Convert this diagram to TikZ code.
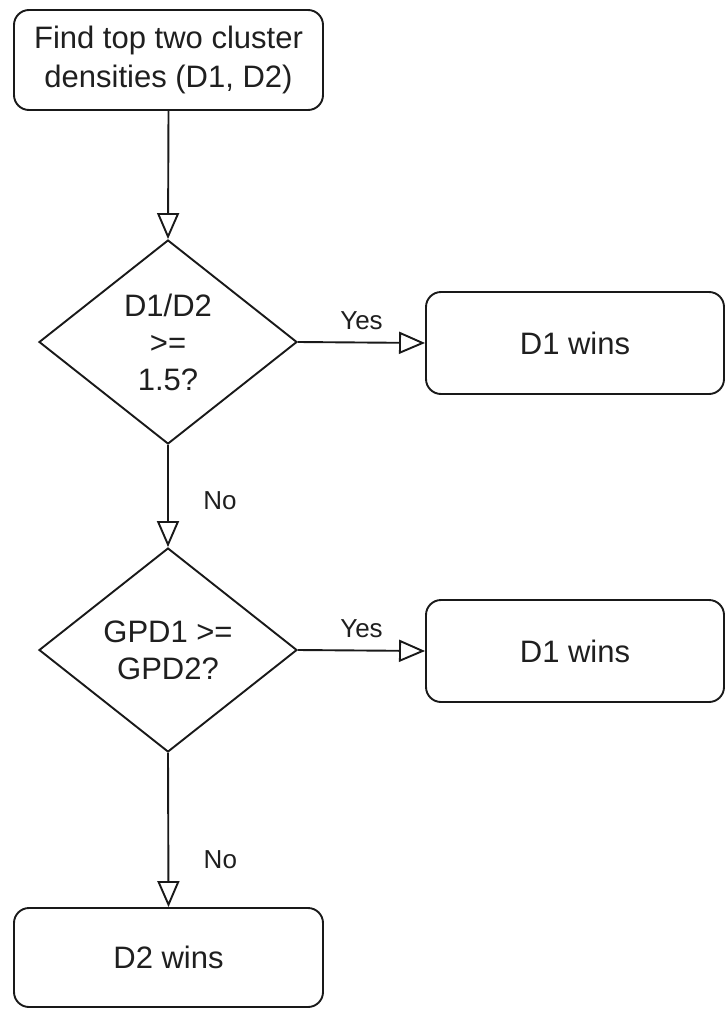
\documentclass[tikz,border=0pt]{standalone}
\usepackage{fontspec}
\setmainfont{Liberation Sans}
\usetikzlibrary{shapes.geometric,arrows.meta}
\begin{document}
\begin{tikzpicture}[x=1pt,y=-1pt,
  every node/.style={text=black!88},
  proc/.style={draw=black!90, line width=1.9pt, rounded corners=15pt, fill=white,
    inner sep=0pt, align=center, font=\fontsize{31}{39}\selectfont},
  decide/.style={draw=black!90, line width=1.9pt, diamond, aspect=1.27, fill=white,
    inner sep=0pt, align=center, font=\fontsize{31}{37}\selectfont,
    minimum width=258pt, minimum height=204pt},
  flow/.style={draw=black!90, line width=1.9pt,
    -{Triangle[length=26pt,width=22pt,fill=white,line join=miter]}},
  lbl/.style={font=\fontsize{26}{31}\selectfont, inner sep=0pt}
]
\useasboundingbox (0,0) rectangle (726,1009);

% boxes and decisions
\node[proc, minimum width=309pt, minimum height=100pt] (start) at (168.5,60)
  {Find top two cluster\\densities (D1, D2)};
\node[decide] (q1) at (168,342) {D1/D2\\>=\\1.5?};
\node[proc, minimum width=298pt, minimum height=102pt] (win1) at (575,343) {D1 wins};
\node[decide] (q2) at (168,650) {GPD1 >=\\GPD2?};
\node[proc, minimum width=298pt, minimum height=102pt] (win2) at (575,651) {D1 wins};
\node[proc, minimum width=309pt, minimum height=99pt] (win3) at (168.5,957.5) {D2 wins};

% connectors
\draw[flow] (start.south) -- (q1.north);
\draw[flow] (q1.east) -- node[lbl, midway, yshift=22pt] {Yes} (win1.west);
\draw[flow] (q1.south) -- node[lbl, pos=0.55, xshift=52pt] {No} (q2.north);
\draw[flow] (q2.east) -- node[lbl, midway, yshift=22pt] {Yes} (win2.west);
\draw[flow] (q2.south) -- node[lbl, pos=0.69, xshift=52pt] {No} (win3.north);
\end{tikzpicture}
\end{document}
